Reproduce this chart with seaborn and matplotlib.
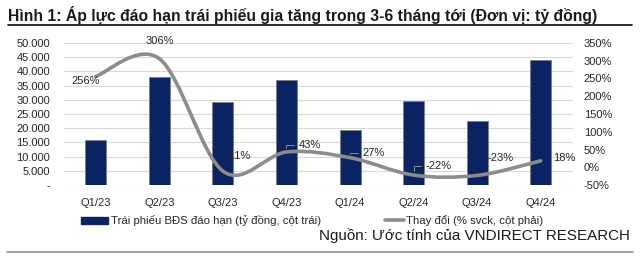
import matplotlib
matplotlib.use("Agg")
import matplotlib.pyplot as plt
from matplotlib.path import Path
from matplotlib.patches import PathPatch, Patch
from matplotlib.lines import Line2D
from matplotlib.ticker import FuncFormatter, MultipleLocator
import seaborn as sns
import numpy as np
import pandas as pd

categories = ["Q1/23", "Q2/23", "Q3/23", "Q4/23", "Q1/24", "Q2/24", "Q3/24", "Q4/24"]
maturity = [15800, 37900, 29300, 37000, 19400, 29700, 22600, 44000]
change_pct = [256, 306, -11, 43, 27, -22, -23, 18]
label_bar = "Trái phiếu BĐS đáo hạn (tỷ đồng, cột trái)"
label_line = "Thay đổi (% svck, cột phải)"
title = "Hình 1: Áp lực đáo hạn trái phiếu gia tăng trong 3-6 tháng tới (Đơn vị: tỷ đồng)"
source = "Nguồn: Ước tính của VNDIRECT RESEARCH"

sns.set_theme(style="white")
plt.rcParams["font.family"] = ["Liberation Sans", "DejaVu Sans"]

BAR = "#0a2463"
LINE = "#8c8c8c"
GRID = "#d9d9d9"
TXT = "#262626"

df = pd.DataFrame({"q": categories, "v": maturity, "p": change_pct})

W, H = 640, 267
fig = plt.figure(figsize=(W / 100, H / 100), dpi=100)
ax = fig.add_axes([64 / W, 1 - 185 / H, (572.5 - 64) / W, 142 / H])
sns.barplot(data=df, x="q", y="v", color=BAR, width=0.33, edgecolor="#7f7f7f",
            linewidth=0.6, saturation=1, ax=ax, zorder=2)
ax.set_xlim(-0.5, len(categories) - 0.5)
ax.set_ylim(0, 50000)
ax.yaxis.set_major_locator(MultipleLocator(5000))
ax.yaxis.set_major_formatter(FuncFormatter(
    lambda v, p: "-" if v == 0 else f"{int(v):,}".replace(",", ".")))
ax.grid(axis="y", color=GRID, linewidth=0.8, zorder=0)
ax.set_axisbelow(True)
ax.set_xlabel("")
ax.set_ylabel("")
for s in ax.spines.values():
    s.set_visible(False)
ax.tick_params(axis="both", length=0, labelsize=8, colors=TXT)
ax.tick_params(axis="x", pad=9)
ax.tick_params(axis="y", pad=10)

ax2 = ax.twinx()
ax2.set_ylim(-50, 350)
ax2.yaxis.set_major_locator(MultipleLocator(50))
ax2.yaxis.set_major_formatter(FuncFormatter(lambda v, p: f"{int(v)}%"))
for s in ax2.spines.values():
    s.set_visible(False)
ax2.tick_params(axis="y", length=0, labelsize=8, colors=TXT, pad=8)

# smooth curve through the data points (Catmull-Rom style Bezier)
xs = np.arange(len(change_pct), dtype=float)
ys = np.array(change_pct, dtype=float)
pts = np.column_stack([xs, ys])
ext = np.vstack([pts[0], pts, pts[-1]])
verts = [tuple(pts[0])]
codes = [Path.MOVETO]
for i in range(len(pts) - 1):
    p0, p1, p2, p3 = ext[i], ext[i + 1], ext[i + 2], ext[i + 3]
    c1 = p1 + (p2 - p0) / 6.0
    c2 = p2 - (p3 - p1) / 6.0
    verts += [tuple(c1), tuple(c2), tuple(p2)]
    codes += [Path.CURVE4] * 3
ax2.add_patch(PathPatch(Path(verts, codes), facecolor="none", edgecolor=LINE,
                        linewidth=2.6, capstyle="round", zorder=3))

offsets = [(-7, -3), (0, 13), (11, 11), (17, 5), (17, 3.5), (18, 6.5), (17, 12.5), (17, 2)]
leaders = [False, False, False, True, True, True, False, False]
for i, (v, off, ld) in enumerate(zip(change_pct, offsets, leaders)):
    kw = {}
    if ld:
        kw["arrowprops"] = dict(arrowstyle="-", color=LINE, lw=0.7,
                                shrinkA=1, shrinkB=3,
                                connectionstyle="angle,angleA=0,angleB=90,rad=0",
                                relpos=(0, 0.5))
    ax2.annotate(f"{v}%", (i, v), xytext=off, textcoords="offset points",
                 ha="center", va="center", fontsize=8, color=TXT, zorder=4, **kw)

leg1 = fig.legend([Patch(facecolor=BAR, edgecolor=BAR)], [label_bar],
                  loc="center left", bbox_to_anchor=(81 / W, 1 - 221 / H),
                  frameon=False, fontsize=8.2, handlelength=2.4, handleheight=0.45,
                  handletextpad=0.2, borderpad=0, borderaxespad=0)
leg2 = fig.legend([Line2D([0], [0], color=LINE, linewidth=2.6)], [label_line],
                  loc="center left", bbox_to_anchor=(385 / W, 1 - 221 / H),
                  frameon=False, fontsize=8.2, handlelength=1.7,
                  handletextpad=0.15, borderpad=0, borderaxespad=0)
for lg in (leg1, leg2):
    for t in lg.get_texts():
        t.set_color(TXT)

fig.text(8 / W, 1 - 15 / H, title, fontsize=11.3, fontweight="bold",
         ha="left", va="center", color="#1a1a1a")
fig.add_artist(Line2D([8 / W, 632 / W], [1 - 25 / H, 1 - 25 / H],
                      color="#1a1a1a", linewidth=1.3))
fig.text(630 / W, 1 - 236 / H, source, fontsize=10.9, ha="right", va="center",
         color="#1a1a1a")
fig.add_artist(Line2D([7 / W, 633 / W], [1 - 252 / H, 1 - 252 / H],
                      color="#999999", linewidth=1.3))

fig.savefig("out.png", dpi=100)
